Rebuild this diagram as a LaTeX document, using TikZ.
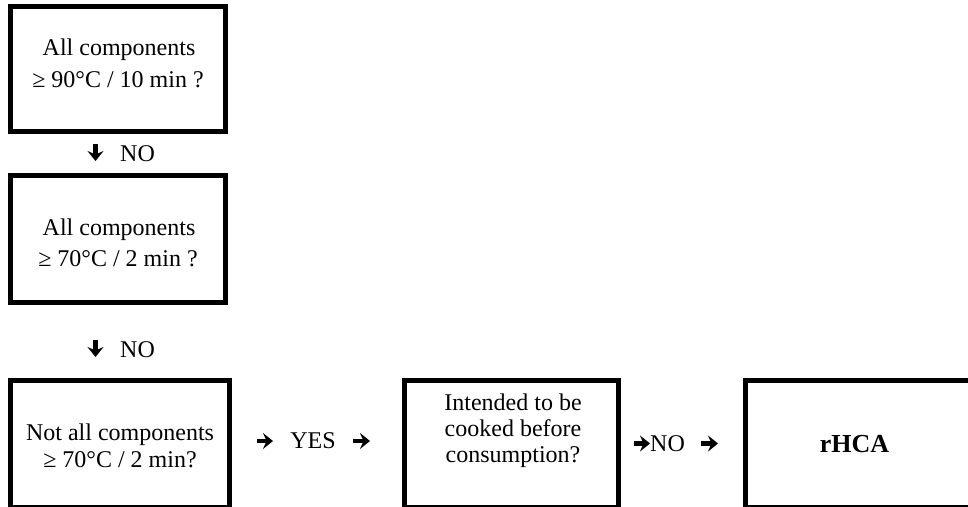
\documentclass[tikz,border=0pt]{standalone}
\usepackage{fontspec}
\setmainfont{Liberation Serif}
\usetikzlibrary{arrows.meta}
\begin{document}
\begin{tikzpicture}[x=1pt,y=-1pt,
  box/.style={draw, line width=5pt, inner sep=0pt},
  txt/.style={font=\fontsize{24}{28}\selectfont, inner sep=0pt, anchor=base},
  bigarrow/.style={line width=4.6pt, -{Stealth[length=10pt,width=16pt,inset=3.5pt]}}]
\useasboundingbox (0,0) rectangle (968,506);
\clip (0,0) rectangle (968,506);
% boxes
\node[box, minimum width=215pt, minimum height=125pt] (b1) at (118,69) {};
\node[box, minimum width=215pt, minimum height=127.5pt] (b2) at (118,238.75) {};
\node[box, minimum width=219pt, minimum height=126.5pt] (b3) at (120,443.75) {};
\node[box, minimum width=213.5pt, minimum height=126.5pt] (b4) at (511.25,443.75) {};
\node[box, minimum width=234.5pt, minimum height=126.5pt] (b5) at (862.75,443.75) {};
% texts in boxes
\node[txt] (t1a) at (119,55) {All components};
\node[txt] (t1b) at (118,87) {≥ 90°C / 10 min ?};
\node[txt] (t2a) at (119,235) {All components};
\node[txt] (t2b) at (118,266) {≥ 70°C / 2 min ?};
\node[txt] (t3a) at (120,440) {Not all components};
\node[txt] (t3b) at (120,467) {≥ 70°C / 2 min?};
\node[txt] (t4a) at (513,410) {Intended to be};
\node[txt] (t4b) at (513,436) {cooked before};
\node[txt] (t4c) at (513,462) {consumption?};
\node[txt, font=\fontsize{26}{30}\selectfont\bfseries] (t5) at (854.5,452) {rHCA};
% down arrows with NO
\coordinate (d1s) at (95.5,144);
\coordinate (d1e) at (95.5,161);
\draw[bigarrow] (d1s) -- (d1e);
\node[txt, anchor=base west] (no1) at (120,161) {NO};
\coordinate (d2s) at (95.5,340);
\coordinate (d2e) at (95.5,357);
\draw[bigarrow] (d2s) -- (d2e);
\node[txt, anchor=base west] (no2) at (120,357) {NO};
% YES arrows
\coordinate (y1s) at (257,441);
\coordinate (y1e) at (273,441);
\draw[bigarrow] (y1s) -- (y1e);
\node[txt] (yes) at (313,448) {YES};
\coordinate (y2s) at (353,441);
\coordinate (y2e) at (370,441);
\draw[bigarrow] (y2s) -- (y2e);
% NO arrows
\coordinate (n1s) at (634,443.5);
\coordinate (n1e) at (650,443.5);
\draw[bigarrow] (n1s) -- (n1e);
\node[txt, anchor=base west] (no3) at (650,451) {NO};
\coordinate (n2s) at (701,443.5);
\coordinate (n2e) at (718,443.5);
\draw[bigarrow] (n2s) -- (n2e);
\end{tikzpicture}
\end{document}
